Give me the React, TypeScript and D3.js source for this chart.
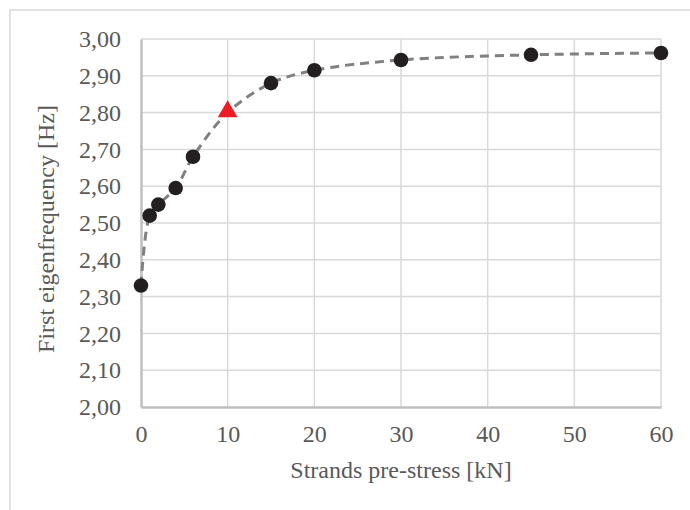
import { useEffect, useRef } from 'react'
import * as d3 from 'd3'

const preStress = [0, 1, 2, 4, 6, 15, 20, 30, 45, 60]
const frequency = [2.33, 2.52, 2.55, 2.595, 2.68, 2.88, 2.915, 2.943, 2.957, 2.962]
const highlightX = [10]
const highlightY = [2.80]
const xTicks = [0, 10, 20, 30, 40, 50, 60]
const yTicks = [2.0, 2.1, 2.2, 2.3, 2.4, 2.5, 2.6, 2.7, 2.8, 2.9, 3.0]

const App = () => {
  const chartRef = useRef<SVGSVGElement>(null)

  useEffect(() => {
    const width = 690
    const height = 510
    const margin = { top: 39, right: 29, bottom: 103, left: 141 }
    const font = '"Liberation Serif", "Times New Roman", serif'

    const svg = d3.select(chartRef.current)
    svg.selectAll('*').remove()
    svg.attr('width', width).attr('height', height)

    svg.append('rect')
      .attr('x', 10).attr('y', 10)
      .attr('width', 700).attr('height', 520)
      .attr('fill', 'white')
      .attr('stroke', '#d9d9d9')
      .attr('stroke-width', 1.5)

    const xScale = d3.scaleLinear().domain([0, 60]).range([margin.left, width - margin.right])
    const yScale = d3.scaleLinear().domain([2, 3]).range([height - margin.bottom, margin.top])

    // grid
    svg.append('g').selectAll('line')
      .data(yTicks.slice(1))
      .enter().append('line')
      .attr('x1', xScale(0)).attr('x2', xScale(60))
      .attr('y1', d => yScale(d)).attr('y2', d => yScale(d))
      .attr('stroke', '#d9d9d9').attr('stroke-width', 1.5)

    svg.append('g').selectAll('line')
      .data(xTicks.slice(1))
      .enter().append('line')
      .attr('x1', d => xScale(d)).attr('x2', d => xScale(d))
      .attr('y1', yScale(2)).attr('y2', yScale(3))
      .attr('stroke', '#d9d9d9').attr('stroke-width', 1.5)

    // axes
    const xAxis = svg.append('g')
      .attr('transform', `translate(0, ${yScale(2)})`)
      .call(d3.axisBottom(xScale).tickValues(xTicks).tickSize(0).tickPadding(18).tickFormat(d => `${d}`))
    const yAxis = svg.append('g')
      .attr('transform', `translate(${xScale(0)}, 0)`)
      .call(d3.axisLeft(yScale).tickValues(yTicks).tickSize(0).tickPadding(20)
        .tickFormat(d => (d as number).toFixed(2).replace('.', ',')))

    for (const ax of [xAxis, yAxis]) {
      ax.attr('font-family', font).attr('font-size', 24)
      ax.select('.domain').attr('stroke', '#bfbfbf').attr('stroke-width', 2.5)
      ax.selectAll('text').attr('fill', '#595959')
    }

    // smoothed dashed line
    const pts: [number, number][] = []
    let h = 0
    preStress.forEach((x, i) => {
      if (h < highlightX.length && highlightX[h] < x) {
        pts.push([highlightX[h], highlightY[h]])
        h++
      }
      pts.push([x, frequency[i]])
    })

    const line = d3.line<[number, number]>()
      .x(d => xScale(d[0]))
      .y(d => yScale(d[1]))
      .curve(d3.curveCatmullRom.alpha(0.5))

    svg.append('path')
      .datum(pts)
      .attr('d', line)
      .attr('fill', 'none')
      .attr('stroke', '#808080')
      .attr('stroke-width', 3)
      .attr('stroke-dasharray', '9,6')

    svg.selectAll('.dot')
      .data(preStress)
      .enter().append('circle')
      .attr('class', 'dot')
      .attr('cx', d => xScale(d))
      .attr('cy', (d, i) => yScale(frequency[i]))
      .attr('r', 7.3)
      .attr('fill', '#231f20')

    const tri = d3.symbol().type(d3.symbolTriangle).size(170)
    svg.selectAll('.tri')
      .data(highlightX)
      .enter().append('path')
      .attr('class', 'tri')
      .attr('transform', (d, i) => `translate(${xScale(d)}, ${yScale(highlightY[i]) - 1})`)
      .attr('d', tri)
      .attr('fill', '#ed1c24')

    svg.append('text')
      .attr('x', (xScale(0) + xScale(60)) / 2)
      .attr('y', 478)
      .attr('text-anchor', 'middle')
      .attr('font-family', font)
      .attr('font-size', 24)
      .attr('fill', '#595959')
      .text('Strands pre-stress [kN]')

    svg.append('text')
      .attr('transform', `translate(54, 229) rotate(-90)`)
      .attr('text-anchor', 'middle')
      .attr('font-family', font)
      .attr('font-size', 24)
      .attr('fill', '#595959')
      .text('First eigenfrequency [Hz]')
  }, [])

  return (
    <div style={{ position: 'fixed', left: 0, top: 0 }}>
      <svg ref={chartRef}></svg>
    </div>
  )
}

export default App
